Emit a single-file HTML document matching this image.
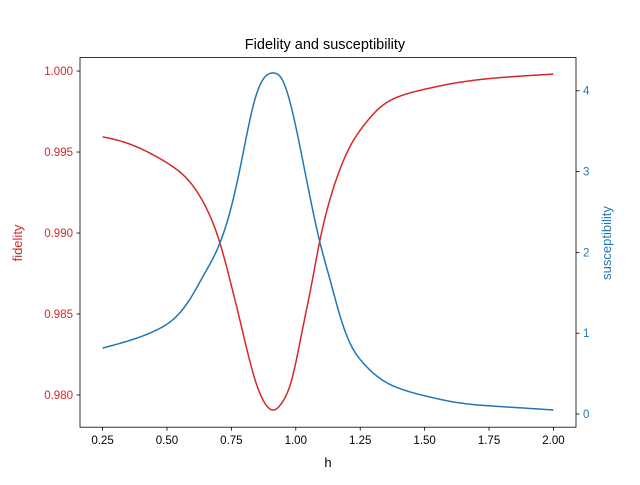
<!DOCTYPE html>
<html><head><meta charset="utf-8"><style>
body{margin:0;background:#fff}
svg{font-family:"Liberation Sans","DejaVu Sans",sans-serif}
</style></head><body>
<svg id="chart" width="640" height="480" viewBox="0 0 640 480">
<rect width="640" height="480" fill="#fff"/>
<text x="325" y="49" font-size="14.5" text-anchor="middle">Fidelity and susceptibility</text>
<g id="plot"></g>
<text x="328" y="467" font-size="13" text-anchor="middle">h</text>
<text transform="translate(22,243) rotate(-90)" font-size="13" fill="#d62728" text-anchor="middle">fidelity</text>
<text transform="translate(611,243) rotate(-90)" font-size="13" fill="#1f77b4" text-anchor="middle">susceptibility</text>
</svg>
<script>
const hValues=[0.25,0.33,0.46,0.531,0.589,0.641,0.706,0.751,0.783,0.842,0.880,0.913,0.945,0.984,1.023,1.062,1.094,1.133,1.172,1.210,1.262,1.327,1.417,1.521,1.611,1.805,2.0];
const fidelity=[0.99594,0.99563,0.99471,0.99400,0.99315,0.99190,0.98936,0.98669,0.98463,0.98093,0.97949,0.97907,0.97949,0.98093,0.98381,0.98690,0.98957,0.99210,0.99396,0.99533,0.99660,0.99775,0.99852,0.99895,0.99924,0.99961,0.99981];
const susceptibility=[0.816,0.886,1.04,1.19,1.42,1.71,2.12,2.58,3.03,3.90,4.17,4.22,4.15,3.78,3.20,2.58,2.12,1.66,1.21,0.88,0.63,0.44,0.30,0.21,0.15,0.09,0.05];
const xTicks=[0.25,0.5,0.75,1.0,1.25,1.5,1.75,2.0];
const xTickLabels=["0.25","0.50","0.75","1.00","1.25","1.50","1.75","2.00"];
const leftTicks=[0.980,0.985,0.990,0.995,1.000];
const leftTickLabels=["0.980","0.985","0.990","0.995","1.000"];
const rightTicks=[0,1,2,3,4];
const rightTickLabels=["0","1","2","3","4"];

const L=80,R=576,T=57.6,B=427.2;
const xMin=0.1625,xMax=2.0875,lMin=0.97801,lMax=1.00083,rMin=-0.163,rMax=4.41;
const X=v=>L+(v-xMin)/(xMax-xMin)*(R-L);
const YL=v=>B-(v-lMin)/(lMax-lMin)*(B-T);
const YR=v=>B-(v-rMin)/(rMax-rMin)*(B-T);
const NS="http://www.w3.org/2000/svg";
const g=document.getElementById('plot');
function mk(tag,attrs){const e=document.createElementNS(NS,tag);for(const k in attrs)e.setAttribute(k,attrs[k]);g.appendChild(e);return e;}
function spline(xs,ys){
  const n=xs.length,h=[],a=[],b=[],c=[],r=[],M=new Array(n).fill(0);
  for(let i=0;i<n-1;i++)h.push(xs[i+1]-xs[i]);
  for(let i=1;i<n-1;i++){a[i]=h[i-1];b[i]=2*(h[i-1]+h[i]);c[i]=h[i];r[i]=6*((ys[i+1]-ys[i])/h[i]-(ys[i]-ys[i-1])/h[i-1]);}
  for(let i=2;i<n-1;i++){const w=a[i]/b[i-1];b[i]-=w*c[i-1];r[i]-=w*r[i-1];}
  for(let i=n-2;i>=1;i--)M[i]=(r[i]-(i<n-2?c[i]*M[i+1]:0))/b[i];
  return x=>{let i=0;while(i<n-2&&x>xs[i+1])i++;
    const t1=xs[i+1]-x,t0=x-xs[i],hi=h[i];
    return M[i]*t1*t1*t1/(6*hi)+M[i+1]*t0*t0*t0/(6*hi)+(ys[i]/hi-M[i]*hi/6)*t1+(ys[i+1]/hi-M[i+1]*hi/6)*t0;};
}
function pathFor(xs,ys,Y){
  const f=spline(xs,ys),x0=xs[0],x1=xs[xs.length-1];let d='';
  for(let k=0;k<=500;k++){const x=x0+(x1-x0)*k/500;d+=(k?'L':'M')+X(x).toFixed(2)+','+Y(f(x)).toFixed(2);}
  return d;}
let e;
e=mk('path',{d:pathFor(hValues,fidelity,YL),fill:'none',stroke:'#d62728','stroke-width':1.5});


e=mk('path',{d:pathFor(hValues,susceptibility,YR),fill:'none',stroke:'#1f77b4','stroke-width':1.5});


e=mk('rect',{x:L,y:T,width:R-L,height:B-T,fill:'none',stroke:'#000','stroke-width':0.8});


xTicks.forEach((v,i)=>{
  const x=X(v);
  e=mk('line',{x1:x,x2:x,y1:B,y2:B+3.5,stroke:'#000','stroke-width':0.8});
  
  
  e=mk('text',{x:x,y:B+17,'font-size':11.5,'text-anchor':'middle'});e.textContent=xTickLabels[i];
  
  
});
leftTicks.forEach((v,i)=>{
  const y=YL(v);
  e=mk('line',{x1:L-3.5,x2:L,y1:y,y2:y,stroke:'#000','stroke-width':0.8});
  
  
  e=mk('text',{x:L-7,y:y+4,'font-size':11.5,'text-anchor':'end',fill:'#d62728'});e.textContent=leftTickLabels[i];
  
  
});
rightTicks.forEach((v,i)=>{
  const y=YR(v);
  e=mk('line',{x1:R,x2:R+3.5,y1:y,y2:y,stroke:'#000','stroke-width':0.8});
  
  
  e=mk('text',{x:R+7,y:y+4,'font-size':11.5,fill:'#1f77b4'});e.textContent=rightTickLabels[i];
  
  
});
</script>
</body></html>
